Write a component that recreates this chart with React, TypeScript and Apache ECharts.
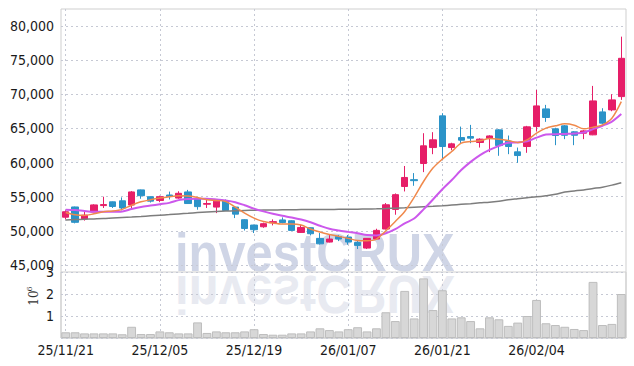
import React, { useEffect, useRef } from 'react';
import * as echarts from 'echarts';

const dates = ['25/11/21','25/11/24','25/11/25','25/11/26','25/11/27','25/11/28','25/12/01','25/12/02','25/12/03','25/12/04','25/12/05','25/12/08','25/12/09','25/12/10','25/12/11','25/12/12','25/12/15','25/12/16','25/12/17','25/12/18','25/12/19','25/12/22','25/12/23','25/12/24','25/12/26','25/12/29','25/12/30','26/01/02','26/01/05','26/01/06','26/01/07','26/01/08','26/01/09','26/01/12','26/01/13','26/01/14','26/01/15','26/01/16','26/01/19','26/01/20','26/01/21','26/01/22','26/01/23','26/01/26','26/01/27','26/01/28','26/01/29','26/01/30','26/02/02','26/02/03','26/02/04','26/02/05','26/02/06','26/02/09','26/02/10','26/02/11','26/02/12','26/02/13','26/02/19','26/02/20'];

const opens = [52000,53500,51750,52750,53700,54250,54400,53780,56000,55000,54450,55250,54800,55700,54650,53900,53480,54400,53480,51630,50850,50600,51200,51600,51480,49770,50460,48900,48360,49180,49100,48300,47480,48800,50270,53140,56500,57500,59860,62200,66840,62200,63660,63810,62940,63520,64790,63130,61570,62350,65270,67860,64940,65380,64500,64300,64060,67420,67715,69660];
const closes = [52800,51250,52300,53800,53850,53570,53350,55700,55150,54350,55000,55050,55500,54000,53550,54000,54350,52980,52450,50350,50170,51050,51350,51230,50070,50500,49580,48100,48800,48800,48360,47870,48900,50070,53820,55300,57820,57350,62450,63330,62350,62740,63280,63580,63430,63900,62490,62350,61030,65230,68300,66600,63960,64000,64000,64640,69030,65770,69180,75270];
const lows = [51700,51100,51500,52750,53350,53350,53000,53100,54700,54150,54200,54600,54700,53950,53100,53350,52600,52900,51870,50050,49680,50450,50800,51100,50000,49700,49330,48000,48300,48500,47970,47340,47340,48750,50200,52360,55770,56600,58600,61230,60400,61800,62740,62840,62200,61530,60990,61230,59960,61430,64540,65960,62550,63430,62550,63430,64010,65600,67520,69180];
const highs = [53000,53550,52900,53900,55000,54300,54900,55830,56050,55050,55150,55750,55800,56000,54700,54650,54500,54600,53550,51700,50900,51200,51680,51970,51550,50900,50500,49680,49380,49400,49400,48600,48950,50310,54070,55480,59500,58460,64300,64450,67230,62900,65270,65520,63550,64000,64900,63960,62200,65375,70640,68450,65100,65500,64600,64750,71225,67960,70010,78440];

const volumes = [260000,260000,210000,210000,210000,210000,170000,510000,180000,180000,300000,260000,210000,210000,710000,230000,300000,260000,260000,300000,400000,180000,150000,150000,210000,210000,300000,440000,360000,300000,400000,490000,300000,440000,1170000,770000,2140000,890000,2710000,1270000,2170000,890000,940000,770000,440000,940000,850000,550000,700000,1000000,1730000,670000,590000,510000,410000,360000,2550000,590000,640000,2000000];

const ma5 = [52700,52350,52250,52500,52800,52900,53150,53750,54250,54550,54800,55000,55150,55100,54900,54550,54450,54300,53480,52600,51870,51380,51140,51000,51000,50850,50270,49830,49480,49190,48900,48600,48560,48800,50020,51380,52840,54900,57230,59190,60500,61620,62840,63080,63180,63520,63430,63230,62940,63330,64310,65040,65380,65670,65480,64940,65180,65520,66500,68930];
const ma10 = [53100,53050,52900,52800,52800,52800,52850,53200,53500,53700,53900,54100,54500,54650,54700,54700,54600,54450,54200,53750,53250,52850,52500,52200,51950,51650,51250,50750,50300,50050,49850,49650,49400,49330,49650,50250,51100,51800,53150,54600,56100,57450,58900,60100,61100,61850,62450,62900,62950,63100,63650,64100,64150,64200,64250,64400,64900,65400,66000,67100];
const ma60 = [51600,51650,51700,51750,51800,51880,51950,52020,52100,52200,52300,52380,52480,52580,52680,52760,52830,52890,52940,52980,53020,53040,53060,53080,53100,53110,53120,53130,53140,53150,53160,53170,53200,53230,53270,53320,53380,53450,53520,53590,53680,53780,53880,53980,54100,54200,54350,54550,54700,54850,54980,55150,55350,55700,55850,56000,56200,56400,56700,57050];

const UP = '#e61e68';
const DOWN = '#2b93c8';
const GRIDLINE = '#c6c9d4';
const FONT = "'Liberation Sans Narrow', 'DejaVu Sans Condensed', sans-serif";

export default function App() {
  const ref = useRef<HTMLDivElement>(null);
  useEffect(() => {
    if (!ref.current) return;
    const chart = echarts.init(ref.current, undefined, { renderer: 'svg' });
    const candles = opens.map((o, i) => [o, closes[i], lows[i], highs[i]]);
    const dashed = { show: true, lineStyle: { color: GRIDLINE, width: 1, type: [2, 3] as any } };
    chart.setOption({
      animation: false,
      backgroundColor: '#ffffff',
      grid: [
        { left: 61, right: 8, top: 9, height: 329, show: true, borderColor: '#cfcfcf', borderWidth: 1, backgroundColor: 'transparent' },
        { left: 61, right: 8, top: 26, height: 239 },
        { left: 61, right: 8, top: 272, height: 66, show: true, borderColor: '#cfcfcf', borderWidth: 1, backgroundColor: 'transparent' },
      ],
      xAxis: [
        {
          gridIndex: 0, type: 'category', data: dates, boundaryGap: true,
          axisLine: { show: false }, axisTick: { show: false }, axisLabel: { show: false },
          splitLine: { ...dashed, interval: 9, alignWithLabel: true },
        },
        { gridIndex: 1, type: 'category', data: dates, boundaryGap: true, show: false },
        {
          gridIndex: 2, type: 'category', data: dates, boundaryGap: true,
          axisLine: { show: false }, axisTick: { show: false }, splitLine: { show: false },
          axisLabel: { interval: 9, margin: 5, fontFamily: FONT, fontSize: 14, color: '#1a1a1a' },
        },
      ],
      yAxis: [
        { gridIndex: 0, type: 'value', min: 0, max: 1, show: false },
        {
          gridIndex: 1, type: 'value', min: 45000, max: 80000, interval: 5000,
          axisLine: { show: false }, axisTick: { show: false },
          axisLabel: { margin: 7, fontFamily: FONT, fontSize: 14, color: '#1a1a1a', formatter: (v: number) => v.toLocaleString('en-US') },
          splitLine: dashed,
        },
        {
          gridIndex: 2, type: 'value', min: 0, max: 3000000, interval: 1000000,
          axisLine: { show: false }, axisTick: { show: false },
          axisLabel: { margin: 7, fontFamily: FONT, fontSize: 14, color: '#1a1a1a', formatter: (v: number) => (v === 0 ? '' : String(v / 1000000)) },
          splitLine: dashed,
        },
      ],
      graphic: [
        {
          type: 'text', x: 175, y: 252.5, scaleX: 0.905, z: -10, silent: true,
          style: { text: 'investCRUX', fontFamily: "'Liberation Sans', Arial, sans-serif", fontWeight: 'bold', fontSize: 54, fill: '#cfd5e6', textAlign: 'left', textVerticalAlign: 'middle' },
        },
        {
          type: 'text', x: 175, y: 294.5, scaleX: 0.905, scaleY: -1, z: -10, silent: true,
          style: { text: 'investCRUX', fontFamily: "'Liberation Sans', Arial, sans-serif", fontWeight: 'bold', fontSize: 54, fill: '#e8eaf1', textAlign: 'left', textVerticalAlign: 'middle' },
        },
        {
          type: 'group', x: 34, y: 298, rotation: Math.PI / 2, silent: true,
          children: [
            { type: 'text', x: 0, y: 0, style: { text: '10', fontFamily: "'DejaVu Serif', serif", fontSize: 12, fill: '#333', textAlign: 'center', textVerticalAlign: 'middle' } },
            { type: 'text', x: 9, y: -5, style: { text: '6', fontFamily: "'DejaVu Serif', serif", fontSize: 8, fill: '#333', textAlign: 'center', textVerticalAlign: 'middle' } },
          ],
        },
      ],
      series: [
        {
          type: 'candlestick', xAxisIndex: 1, yAxisIndex: 1, data: candles, barWidth: '72%', z: 3,
          itemStyle: { color: UP, color0: DOWN, borderColor: UP, borderColor0: DOWN, borderWidth: 1 },
        },
        { type: 'line', xAxisIndex: 1, yAxisIndex: 1, data: ma60, showSymbol: false, smooth: 0.3, z: 4, lineStyle: { color: '#7d7d7d', width: 1.5 } },
        { type: 'line', xAxisIndex: 1, yAxisIndex: 1, data: ma10, showSymbol: false, smooth: 0.3, z: 4, lineStyle: { color: '#cc58ec', width: 2 } },
        { type: 'line', xAxisIndex: 1, yAxisIndex: 1, data: ma5, showSymbol: false, smooth: 0.3, z: 5, lineStyle: { color: '#f0894c', width: 1.5 } },
        {
          type: 'bar', xAxisIndex: 2, yAxisIndex: 2, data: volumes, barCategoryGap: '6%',
          itemStyle: { color: '#d7d7d7', borderColor: '#bdbdbd', borderWidth: 1 },
        },
      ],
    });
    return () => chart.dispose();
  }, []);
  return <div ref={ref} style={{ position: 'fixed', left: 0, top: 0, width: 634, height: 366 }} />;
}
